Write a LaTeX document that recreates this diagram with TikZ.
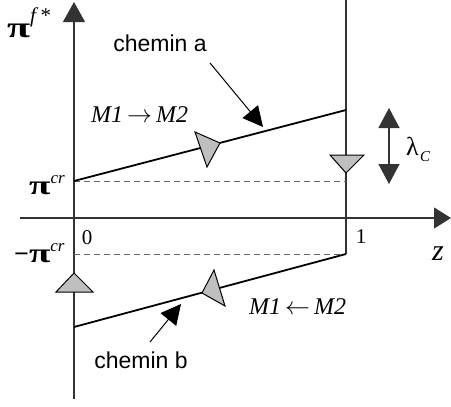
\documentclass[tikz,border=0pt]{standalone}
\usepackage{fontspec}
\usepackage{graphicx}
\setmainfont{Liberation Serif}
\newfontfamily\sansfam{Liberation Sans}
\usetikzlibrary{arrows.meta}
\newcommand{\bigpi}[1]{\scalebox{1.5}[1.05]{\fontsize{#1}{#1}\selectfont\bfseries π}}
\begin{document}
\begin{tikzpicture}[x=1pt,y=-1pt,
  axis/.style={draw=black!80, line width=1.2pt},
  pathline/.style={draw=black, line width=1.8pt},
  guide/.style={draw=black!60, dash pattern=on 6pt off 4pt, line width=1pt},
  marker/.style={fill=black!25, draw=black, line width=1pt, line join=miter},
  ptr/.style={draw=black, line width=1pt, -{Triangle[length=20pt,width=20pt]}},
  lab/.style={font=\sansfam\fontsize{23}{23}\selectfont, inner sep=0pt},
  txt/.style={inner sep=0pt, anchor=base west},
]
\useasboundingbox (0,0) rectangle (451,407);
% points
\coordinate (ytop) at (74,2);
\coordinate (ybot) at (74,399);
\coordinate (xl) at (20,218);
\coordinate (xr) at (451,218);
\coordinate (vtop) at (346,0);
\coordinate (A0) at (74,181);
\coordinate (A1) at (346,110);
\coordinate (B0) at (74,327);
\coordinate (B1) at (346,254);
\coordinate (D1) at (346,181);
\coordinate (E0) at (74,254);
\coordinate (ca0) at (210,63);
\coordinate (ca1) at (263,127);
\coordinate (cb0) at (150,342);
\coordinate (cb1) at (181,304);
\coordinate (l0) at (389,108);
\coordinate (l1) at (389,184);
% axes
\draw[axis, -{Triangle[length=20pt,width=22pt]}] (ybot) -- (ytop);
\draw[axis, -{Triangle[length=17pt,width=21pt]}] (xl) -- (xr);
\draw[axis] (vtop) -- (B1);
% guides
\draw[guide] (A0) -- (D1);
\draw[guide] (E0) -- (B1);
% paths
\draw[pathline] (A0) -- (A1);
\draw[pathline] (B0) -- (B1);
% gray markers
\filldraw[marker] (195,132) -- (220,143) -- (207,167) -- cycle;
\filldraw[marker] (330,155) -- (364,155) -- (346,173) -- cycle;
\filldraw[marker] (56,292) -- (93,292) -- (74,273) -- cycle;
\filldraw[marker] (214,270) -- (225,306) -- (202,293) -- cycle;
% pointers
\draw[ptr] (ca0) -- (ca1);
\draw[ptr] (cb0) -- (cb1);
\draw[draw=black!80, line width=1.2pt, {Triangle[length=20pt,width=21pt]}-{Triangle[length=20pt,width=21pt]}] (l0) -- (l1);
% labels
\node[lab] (ca) at (160,43) {chemin a};
\node[lab] (cb) at (141,360) {chemin b};
\node[txt] (pif) at (7,37) {\bigpi{28}\raisebox{15pt}{\itshape\fontsize{21}{21}\selectfont f\,*}};
\node[txt] (picr) at (29,194) {\bigpi{26}\raisebox{11pt}{\itshape\fontsize{17}{17}\selectfont cr}};
\node[txt] (mpicr) at (14,262) {{\fontsize{26}{26}\selectfont\bfseries −}\bigpi{26}\raisebox{11pt}{\itshape\fontsize{17}{17}\selectfont cr}};
\node[txt] (m12) at (91,122) {\fontsize{24}{24}\selectfont\itshape M1\,$\rightarrow$\,M2};
\node[txt] (m21) at (249,314) {\fontsize{24}{24}\selectfont\itshape M1\,$\leftarrow$\,M2};
\node[inner sep=0pt] (zero) at (87,237.5) {\fontsize{21}{21}\selectfont 0};
\node[inner sep=0pt] (one) at (361,237) {\fontsize{21}{21}\selectfont 1};
\node[txt] (zlab) at (432,260) {\fontsize{30}{30}\selectfont\itshape z};
\node[txt] (lam) at (406,155) {\fontsize{26}{26}\selectfont λ};
\node[txt] (lamC) at (420,161) {\fontsize{15}{15}\selectfont\itshape C};
\end{tikzpicture}
\end{document}
